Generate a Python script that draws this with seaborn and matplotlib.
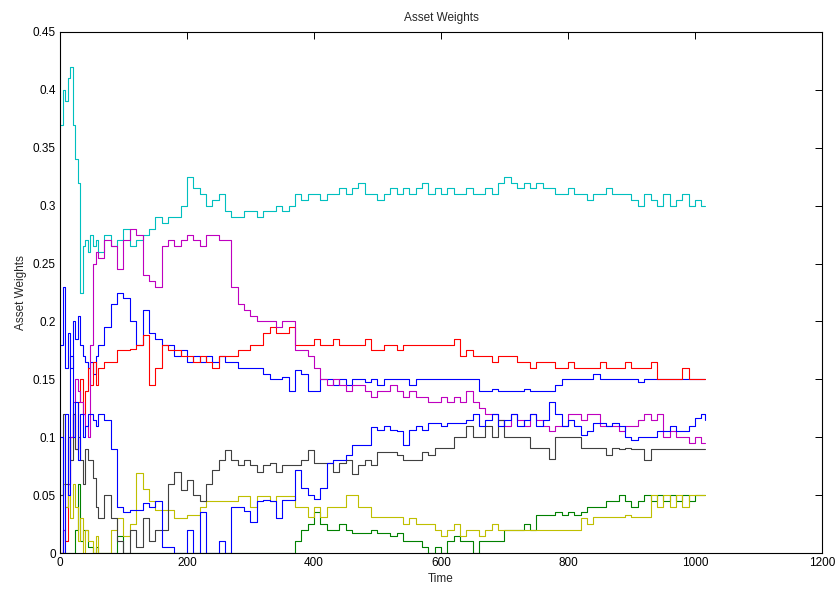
import matplotlib
matplotlib.use("Agg")
import matplotlib.pyplot as plt
import numpy as np
import pandas as pd
import seaborn as sns

# ---- time grid ----
t_early = [0, 4, 8, 12, 16, 20, 24, 28, 32, 36, 40, 44, 48, 52, 56, 60]
t_late = list(range(70, 1011, 10)) + [1015]
time = t_early + t_late

# ---- asset weight series ----
blue1 = [0.18, 0.23, 0.16, 0.19, 0.16, 0.20, 0.185, 0.205, 0.18, 0.17, 0.165, 0.16, 0.165, 0.155, 0.17, 0.18,
         0.195, 0.215, 0.225, 0.22, 0.20, 0.18, 0.21, 0.19, 0.185, 0.18,
         0.18, 0.17, 0.175, 0.165, 0.17, 0.165, 0.17, 0.165, 0.17, 0.165,
         0.165, 0.16, 0.16, 0.16, 0.16, 0.155, 0.15, 0.15, 0.152, 0.14,
         0.158, 0.155, 0.14, 0.14, 0.15, 0.15, 0.145, 0.15, 0.145, 0.15,
         0.15, 0.148, 0.15, 0.145, 0.15, 0.15, 0.15, 0.15, 0.145, 0.15,
         0.15, 0.15, 0.15, 0.15, 0.15, 0.15, 0.15, 0.15, 0.15, 0.14,
         0.14, 0.142, 0.14, 0.14, 0.14, 0.14, 0.142, 0.14, 0.14, 0.14,
         0.14, 0.145, 0.15, 0.15, 0.15, 0.15, 0.15, 0.155, 0.15, 0.15,
         0.15, 0.15, 0.15, 0.15, 0.148, 0.15, 0.15, 0.15, 0.15, 0.15,
         0.15, 0.15, 0.15, 0.15, 0.15, 0.15]

green = [0.0, 0.0, 0.0, 0.0, 0.0, 0.0, 0.02, 0.06, 0.01, 0.02, 0.02, 0.005, 0.005, 0.0, 0.005, 0.0,
         0.0, 0.0, 0.015, 0.0, 0.0, 0.0, 0.0, 0.0, 0.0, 0.0,
         0.0, 0.0, 0.0, 0.0, 0.0, 0.0, 0.0, 0.0, 0.0, 0.0,
         0.0, 0.0, 0.0, 0.0, 0.0, 0.0, 0.0, 0.0, 0.0, 0.0,
         0.01, 0.02, 0.025, 0.035, 0.025, 0.02, 0.02, 0.025, 0.02, 0.017,
         0.017, 0.017, 0.02, 0.017, 0.017, 0.015, 0.017, 0.01, 0.01, 0.01,
         0.005, 0.0, 0.005, 0.0, 0.01, 0.015, 0.01, 0.01, 0.0, 0.01,
         0.01, 0.01, 0.01, 0.02, 0.02, 0.02, 0.025, 0.02, 0.033, 0.033,
         0.033, 0.035, 0.033, 0.035, 0.033, 0.035, 0.04, 0.04, 0.04, 0.045,
         0.045, 0.05, 0.045, 0.04, 0.045, 0.05, 0.045, 0.05, 0.045, 0.05,
         0.045, 0.05, 0.045, 0.05, 0.05, 0.05]

red = [0.0, 0.02, 0.01, 0.06, 0.10, 0.12, 0.09, 0.13, 0.15, 0.12, 0.14, 0.16, 0.145, 0.165, 0.145, 0.16,
       0.165, 0.165, 0.175, 0.175, 0.176, 0.18, 0.188, 0.145, 0.16, 0.18,
       0.175, 0.175, 0.17, 0.17, 0.165, 0.17, 0.165, 0.16, 0.17, 0.17,
       0.17, 0.175, 0.175, 0.18, 0.18, 0.19, 0.195, 0.19, 0.19, 0.195,
       0.18, 0.18, 0.18, 0.185, 0.18, 0.18, 0.185, 0.18, 0.18, 0.18,
       0.18, 0.185, 0.175, 0.175, 0.18, 0.18, 0.175, 0.18, 0.18, 0.18,
       0.18, 0.18, 0.18, 0.18, 0.18, 0.185, 0.17, 0.175, 0.17, 0.17,
       0.17, 0.165, 0.17, 0.17, 0.17, 0.165, 0.165, 0.16, 0.165, 0.165,
       0.165, 0.16, 0.16, 0.165, 0.16, 0.16, 0.16, 0.16, 0.165, 0.16,
       0.16, 0.16, 0.165, 0.16, 0.16, 0.16, 0.165, 0.15, 0.15, 0.15,
       0.15, 0.16, 0.15, 0.15, 0.15, 0.15]

cyan = [0.37, 0.40, 0.39, 0.41, 0.42, 0.37, 0.34, 0.32, 0.225, 0.265, 0.27, 0.26, 0.275, 0.265, 0.27, 0.26,
        0.275, 0.265, 0.27, 0.28, 0.265, 0.27, 0.275, 0.28, 0.29, 0.285,
        0.29, 0.29, 0.30, 0.325, 0.315, 0.31, 0.30, 0.305, 0.31, 0.295,
        0.29, 0.29, 0.295, 0.295, 0.29, 0.295, 0.295, 0.30, 0.295, 0.30,
        0.31, 0.305, 0.31, 0.31, 0.305, 0.31, 0.31, 0.315, 0.31, 0.315,
        0.32, 0.31, 0.31, 0.305, 0.31, 0.315, 0.31, 0.315, 0.31, 0.315,
        0.32, 0.31, 0.315, 0.31, 0.315, 0.31, 0.31, 0.315, 0.31, 0.31,
        0.315, 0.31, 0.32, 0.325, 0.32, 0.315, 0.32, 0.315, 0.32, 0.315,
        0.315, 0.31, 0.31, 0.315, 0.31, 0.31, 0.305, 0.31, 0.31, 0.315,
        0.31, 0.31, 0.31, 0.305, 0.30, 0.31, 0.305, 0.30, 0.31, 0.30,
        0.305, 0.31, 0.30, 0.305, 0.30, 0.30]

magenta = [0.0, 0.02, 0.04, 0.06, 0.10, 0.13, 0.15, 0.14, 0.13, 0.12, 0.11, 0.10, 0.18, 0.25, 0.26, 0.255,
           0.27, 0.265, 0.245, 0.27, 0.28, 0.275, 0.24, 0.235, 0.23, 0.265,
           0.27, 0.265, 0.27, 0.275, 0.27, 0.265, 0.275, 0.275, 0.27, 0.27,
           0.23, 0.215, 0.21, 0.205, 0.20, 0.20, 0.20, 0.195, 0.20, 0.20,
           0.175, 0.175, 0.17, 0.16, 0.15, 0.145, 0.15, 0.145, 0.14, 0.145,
           0.145, 0.14, 0.135, 0.14, 0.14, 0.145, 0.14, 0.135, 0.14, 0.135,
           0.135, 0.13, 0.13, 0.135, 0.13, 0.135, 0.13, 0.14, 0.13, 0.125,
           0.12, 0.12, 0.115, 0.11, 0.12, 0.115, 0.11, 0.12, 0.115, 0.11,
           0.105, 0.11, 0.11, 0.12, 0.12, 0.115, 0.12, 0.12, 0.11, 0.11,
           0.11, 0.105, 0.11, 0.11, 0.115, 0.12, 0.115, 0.12, 0.10, 0.105,
           0.10, 0.10, 0.095, 0.10, 0.095, 0.095]

yellow = [0.05, 0.06, 0.04, 0.05, 0.03, 0.06, 0.04, 0.01, 0.03, 0.0, 0.02, 0.01, 0.01, 0.0, 0.015, 0.0,
          0.0, 0.02, 0.03, 0.015, 0.025, 0.069, 0.055, 0.045, 0.037, 0.037,
          0.037, 0.03, 0.03, 0.033, 0.033, 0.04, 0.045, 0.045, 0.045, 0.045,
          0.045, 0.049, 0.049, 0.04, 0.049, 0.049, 0.045, 0.049, 0.049, 0.049,
          0.04, 0.04, 0.031, 0.04, 0.031, 0.04, 0.04, 0.04, 0.05, 0.05,
          0.04, 0.04, 0.031, 0.031, 0.031, 0.031, 0.031, 0.025, 0.03, 0.025,
          0.025, 0.025, 0.02, 0.015, 0.02, 0.025, 0.015, 0.02, 0.02, 0.015,
          0.02, 0.025, 0.02, 0.02, 0.02, 0.02, 0.02, 0.02, 0.02, 0.02,
          0.02, 0.02, 0.02, 0.02, 0.02, 0.03, 0.025, 0.031, 0.031, 0.031,
          0.031, 0.031, 0.033, 0.031, 0.031, 0.031, 0.05, 0.04, 0.05, 0.04,
          0.05, 0.04, 0.05, 0.05, 0.05, 0.05]

black = [0.05, 0.12, 0.06, 0.10, 0.08, 0.12, 0.09, 0.10, 0.08, 0.06, 0.09, 0.08, 0.08, 0.065, 0.04, 0.03,
         0.05, 0.03, 0.01, 0.0, 0.02, 0.005, 0.03, 0.01, 0.02, 0.02,
         0.06, 0.07, 0.054, 0.063, 0.05, 0.045, 0.06, 0.072, 0.08, 0.089,
         0.08, 0.076, 0.08, 0.076, 0.07, 0.076, 0.078, 0.07, 0.076, 0.076,
         0.076, 0.08, 0.089, 0.078, 0.078, 0.078, 0.07, 0.078, 0.08, 0.068,
         0.076, 0.08, 0.076, 0.087, 0.087, 0.087, 0.085, 0.08, 0.08, 0.08,
         0.087, 0.085, 0.091, 0.091, 0.091, 0.10, 0.10, 0.11, 0.10, 0.10,
         0.11, 0.10, 0.115, 0.10, 0.10, 0.10, 0.10, 0.091, 0.091, 0.091,
         0.081, 0.10, 0.10, 0.10, 0.10, 0.091, 0.091, 0.091, 0.091, 0.085,
         0.091, 0.09, 0.091, 0.09, 0.09, 0.08, 0.09, 0.09, 0.09, 0.09,
         0.09, 0.09, 0.09, 0.09, 0.09, 0.09]

blue2 = [0.10, 0.0, 0.12, 0.05, 0.17, 0.10, 0.13, 0.08, 0.12, 0.10, 0.11, 0.12, 0.12, 0.115, 0.11, 0.12,
         0.115, 0.09, 0.04, 0.035, 0.037, 0.037, 0.043, 0.04, 0.045, 0.005,
         0.005, 0.0, 0.0, 0.02, 0.0, 0.035, 0.0, 0.0, 0.01, 0.0,
         0.04, 0.04, 0.036, 0.027, 0.045, 0.046, 0.045, 0.03, 0.046, 0.046,
         0.072, 0.056, 0.05, 0.047, 0.056, 0.078, 0.08, 0.08, 0.085, 0.093,
         0.093, 0.093, 0.109, 0.106, 0.11, 0.106, 0.105, 0.093, 0.106, 0.11,
         0.106, 0.112, 0.112, 0.11, 0.112, 0.112, 0.112, 0.115, 0.12, 0.11,
         0.115, 0.12, 0.11, 0.115, 0.12, 0.11, 0.115, 0.12, 0.11, 0.115,
         0.13, 0.12, 0.11, 0.115, 0.11, 0.102, 0.105, 0.112, 0.112, 0.11,
         0.112, 0.11, 0.10, 0.098, 0.10, 0.10, 0.10, 0.105, 0.105, 0.11,
         0.105, 0.105, 0.11, 0.117, 0.12, 0.115]

names = ["Asset 1", "Asset 2", "Asset 3", "Asset 4", "Asset 5", "Asset 6", "Asset 7", "Asset 8"]
series = [blue1, green, red, cyan, magenta, yellow, black, blue2]
colors = ["#0000FF", "#008000", "#FF0000", "#00BFBF", "#BF00BF", "#BFBF00", "#404040", "#0000FF"]

frames = []
for n, s in zip(names, series):
    frames.append(pd.DataFrame({"Time": time, "Weight": s, "Asset": n}))
df = pd.concat(frames, ignore_index=True)

sns.set_style("white")
plt.rcParams["font.family"] = ["Liberation Sans", "DejaVu Sans"]

fig = plt.figure(figsize=(8.37, 5.90), dpi=100)
ax = fig.add_axes([60 / 837, 37 / 590, 762 / 837, 521 / 590])

sns.lineplot(data=df, x="Time", y="Weight", hue="Asset", hue_order=names,
             palette=dict(zip(names, colors)), estimator=None, legend=False,
             drawstyle="steps-post", linewidth=0.8, ax=ax)

ax.set_xlim(0, 1200)
ax.set_ylim(0, 0.45)
ax.set_xticks([0, 200, 400, 600, 800, 1000, 1200])
ax.set_xticklabels(["0", "200", "400", "600", "800", "1000", "1200"])
yt = [0, 0.05, 0.1, 0.15, 0.2, 0.25, 0.3, 0.35, 0.4, 0.45]
ax.set_yticks(yt)
ax.set_yticklabels(["0", "0.05", "0.1", "0.15", "0.2", "0.25", "0.3", "0.35", "0.4", "0.45"])
ax.tick_params(direction="in", top=True, right=True, length=5, width=0.7,
               labelsize=8.5, colors="black", pad=3)
for sp in ax.spines.values():
    sp.set_color("black")
    sp.set_linewidth(0.8)
ax.set_title("Asset Weights", fontsize=8.5, pad=8)
ax.set_xlabel("Time", fontsize=8.5, labelpad=3)
ax.set_ylabel("Asset Weights", fontsize=8.5, labelpad=4)
ax.grid(False)

fig.savefig("out.png", dpi=100)
